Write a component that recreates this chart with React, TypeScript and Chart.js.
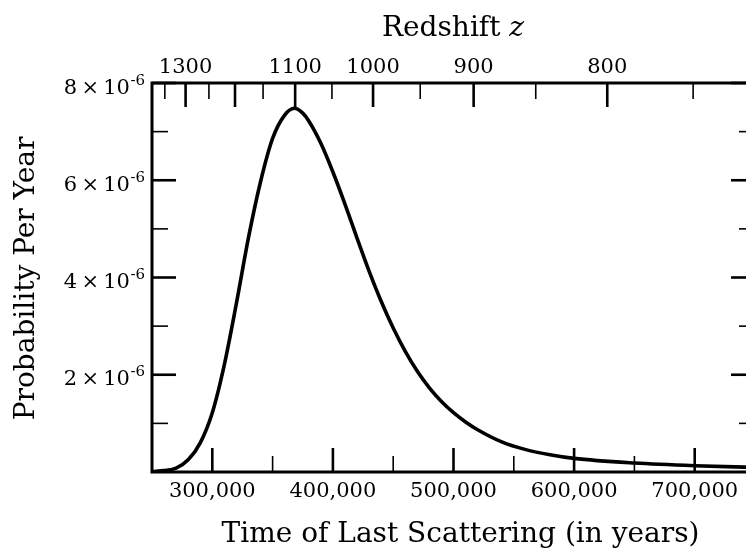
import { useEffect, useRef } from 'react';
import { Chart, registerables } from 'chart.js';

Chart.register(...registerables);

// ---- data ----
const timeYears = [
  250000, 260000, 270000, 280000, 290000, 300000, 310000, 320000, 330000, 340000,
  350000, 360000, 368000, 375000, 380000, 390000, 400000, 410000, 420000, 430000,
  440000, 450000, 460000, 470000, 480000, 490000, 500000, 510000, 520000, 540000,
  560000, 580000, 600000, 650000, 700000, 750000,
];
// probability per year, in units of 1e-6
const probabilityE6 = [
  0.01, 0.03, 0.08, 0.25, 0.60, 1.22, 2.21, 3.47, 4.82, 5.97,
  6.86, 7.34, 7.48, 7.38, 7.22, 6.76, 6.17, 5.51, 4.81, 4.13,
  3.51, 2.96, 2.48, 2.07, 1.73, 1.45, 1.22, 1.03, 0.87, 0.62,
  0.46, 0.355, 0.28, 0.185, 0.13, 0.095,
];

const timeMin = 250000;
const timeMax = 750000;
const timeMajorTicks = [300000, 400000, 500000, 600000, 700000];
const timeMinorTicks = [350000, 450000, 550000, 650000];

const probMax = 8e-6;
const probMajorTicks = [2e-6, 4e-6, 6e-6, 8e-6];
const probMajorLabels = ['2', '4', '6', '8'];
const probMinorTicks = [1e-6, 3e-6, 5e-6, 7e-6];

// top axis: redshift z and the time (years) at which each tick falls
const redshiftMajor = [1300, 1200, 1100, 1000, 900, 800];
const redshiftMajorTime = [277850, 318830, 368700, 433300, 516700, 627500];
const redshiftMajorLabels = ['1300', '', '1100', '1000', '900', '800'];
const redshiftMinor = [1350, 1250, 1150, 1050, 950, 850, 750];
const redshiftMinorTime = [260640, 297200, 342100, 399200, 472400, 568200, 698700];

const xTitle = 'Time of Last Scattering (in years)';
const yTitle = 'Probability Per Year';
const topTitle = 'Redshift ';
const topTitleVar = 'z';

const FONT = "'DejaVu Serif', serif";

const framePlugin = {
  id: 'frameTicksTitles',
  afterDraw(chart: any) {
    const { ctx, chartArea } = chart;
    const { left, right, top, bottom } = chartArea;
    const xs = chart.scales.x;
    const ys = chart.scales.y;
    const xt = chart.scales.xTop;
    ctx.save();
    ctx.strokeStyle = '#000';
    ctx.lineCap = 'butt';

    const line = (x1: number, y1: number, x2: number, y2: number, w: number) => {
      ctx.lineWidth = w;
      ctx.beginPath();
      ctx.moveTo(x1, y1);
      ctx.lineTo(x2, y2);
      ctx.stroke();
    };
    const MAJ = 24, MIN = 16, WMAJ = 2.6, WMIN = 1.6;

    timeMajorTicks.forEach((v) => { const p = xs.getPixelForValue(v); line(p, bottom, p, bottom - MAJ, WMAJ); });
    timeMinorTicks.forEach((v) => { const p = xs.getPixelForValue(v); line(p, bottom, p, bottom - MIN, WMIN); });
    redshiftMajorTime.forEach((v) => { const p = xt.getPixelForValue(v); line(p, top, p, top + MAJ, WMAJ); });
    redshiftMinorTime.forEach((v) => { const p = xt.getPixelForValue(v); line(p, top, p, top + MIN, WMIN); });
    probMajorTicks.forEach((v) => {
      const p = ys.getPixelForValue(v);
      line(left, p, left + MAJ, p, WMAJ);
      line(right, p, right - MAJ, p, WMAJ);
    });
    probMinorTicks.forEach((v) => {
      const p = ys.getPixelForValue(v);
      line(left, p, left + MIN, p, WMIN);
      line(right, p, right - MIN, p, WMIN);
    });

    // frame
    ctx.lineWidth = 3;
    ctx.strokeRect(left, top, right - left, bottom - top);

    // y tick labels: "n × 10^-6"
    ctx.fillStyle = '#000';
    ctx.textBaseline = 'alphabetic';
    probMajorTicks.forEach((v, i) => {
      const p = ys.getPixelForValue(v);
      const base = p + 10.5;
      ctx.font = `15px ${FONT}`;
      const sup = '-6';
      const supW = ctx.measureText(sup).width;
      const endX = left - 7;
      ctx.textAlign = 'left';
      ctx.fillText(sup, endX - supW, base - 9);
      ctx.font = `21px ${FONT}`;
      ctx.textAlign = 'right';
      ctx.fillText(`${probMajorLabels[i]}\u2009×\u200910`, endX - supW - 0.5, base);
    });

    // bottom title
    ctx.font = `28px ${FONT}`;
    ctx.textAlign = 'center';
    ctx.fillText(xTitle, 460.5, 542);

    // top title with italic z
    ctx.font = `28px ${FONT}`;
    const w1 = ctx.measureText(topTitle).width;
    ctx.font = `italic 28px ${FONT}`;
    const w2 = ctx.measureText(topTitleVar).width;
    const startX = 453 - (w1 + w2) / 2;
    ctx.textAlign = 'left';
    ctx.font = `28px ${FONT}`;
    ctx.fillText(topTitle, startX, 36);
    ctx.font = `italic 28px ${FONT}`;
    ctx.fillText(topTitleVar, startX + w1, 36);

    // y title
    ctx.translate(33.5, (top + bottom) / 2 + 1);
    ctx.rotate(-Math.PI / 2);
    ctx.font = `28px ${FONT}`;
    ctx.textAlign = 'center';
    ctx.fillText(yTitle, 0, 0);
    ctx.restore();
  },
};

export default function App() {
  const ref = useRef<HTMLCanvasElement>(null);
  useEffect(() => {
    if (!ref.current) return;
    const points = timeYears.map((t, i) => ({ x: t, y: probabilityE6[i] * 1e-6 }));
    const chart = new Chart(ref.current, {
      type: 'line',
      data: {
        datasets: [
          {
            data: points,
            borderColor: '#000',
            borderWidth: 3.6,
            pointRadius: 0,
            fill: false,
            cubicInterpolationMode: 'monotone',
            xAxisID: 'x',
            yAxisID: 'y',
          },
        ],
      },
      options: {
        responsive: false,
        animation: false,
        layout: { padding: { left: 0, right: 1, top: 0, bottom: 0 } },
        plugins: { legend: { display: false }, tooltip: { enabled: false } },
        scales: {
          x: {
            type: 'linear',
            position: 'bottom',
            min: timeMin,
            max: timeMax,
            grid: { display: false, drawTicks: false },
            border: { display: false },
            afterBuildTicks: (s: any) => { s.ticks = timeMajorTicks.map((v) => ({ value: v })); },
            afterFit: (s: any) => { s.height = 76; },
            ticks: {
              autoSkip: false,
              maxRotation: 0,
              minRotation: 0,
              padding: 7,
              color: '#000',
              font: { family: FONT, size: 21 },
              callback: (v: any) => Number(v).toLocaleString('en-US'),
            },
          },
          xTop: {
            type: 'linear',
            position: 'top',
            min: timeMin,
            max: timeMax,
            grid: { display: false, drawTicks: false },
            border: { display: false },
            afterBuildTicks: (s: any) => { s.ticks = redshiftMajorTime.map((v) => ({ value: v })); },
            afterFit: (s: any) => { s.height = 83; },
            ticks: {
              autoSkip: false,
              maxRotation: 0,
              minRotation: 0,
              padding: 3,
              color: '#000',
              font: { family: FONT, size: 21 },
              callback: (_v: any, i: number) => redshiftMajorLabels[i] ?? String(redshiftMajor[i]),
            },
          },
          y: {
            type: 'linear',
            position: 'left',
            min: 0,
            max: probMax,
            grid: { display: false, drawTicks: false },
            border: { display: false },
            ticks: { display: false },
            afterFit: (s: any) => { s.width = 152; },
          },
        },
      },
      plugins: [framePlugin],
    });
    return () => chart.destroy();
  }, []);

  return (
    <div style={{ position: 'fixed', left: 0, top: 0, width: 746, height: 548, overflow: 'hidden', background: '#fff' }}>
      <canvas ref={ref} width={756} height={548} style={{ width: 756, height: 548, display: 'block' }} />
    </div>
  );
}
